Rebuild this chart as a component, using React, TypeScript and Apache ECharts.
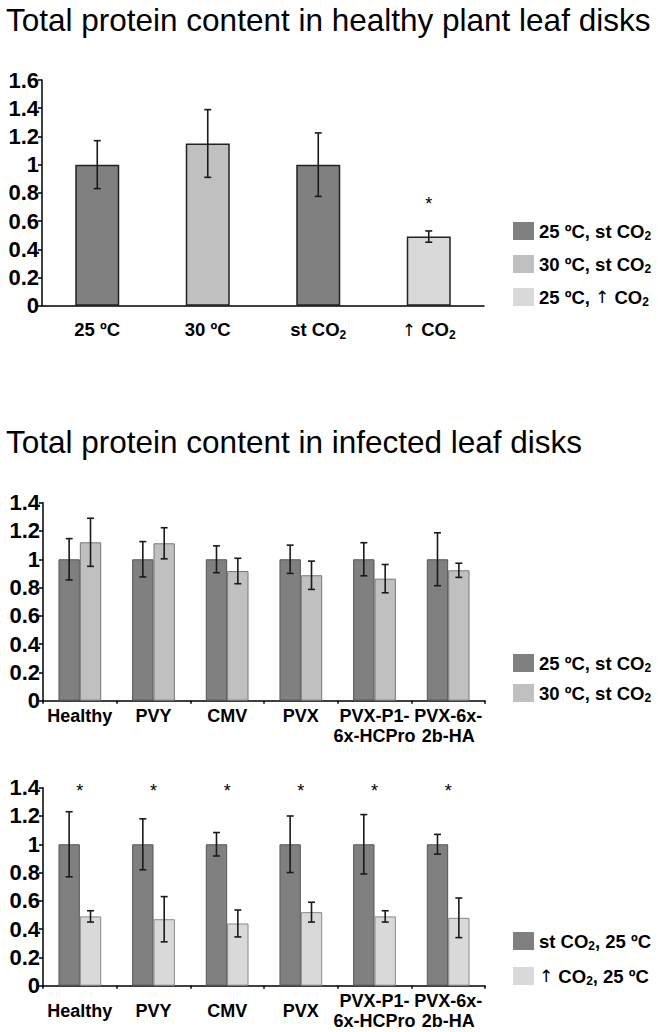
import React, { useEffect, useRef } from 'react';
import * as echarts from 'echarts';

// ---------- data ----------
const healthyCats = ['25 ºC', '30 ºC', 'st CO2', '↑ CO2'];
const healthyValues = [1.0, 1.15, 1.0, 0.49];
const healthyErrors = [0.17, 0.24, 0.225, 0.04];
const healthyStars = [null, null, null, 0.72];
const healthyLegend = ['25 ºC, st CO2', '30 ºC, st CO2', '25 ºC, ↑ CO2'];

const infectedCats = ['Healthy', 'PVY', 'CMV', 'PVX', 'PVX-P1-\n6x-HCPro', 'PVX-6x-\n2b-HA'];
const temp25Values = [1.0, 1.0, 1.0, 1.0, 1.0, 1.0];
const temp25Errors = [0.146, 0.125, 0.095, 0.1, 0.117, 0.187];
const temp30Values = [1.12, 1.113, 0.917, 0.887, 0.863, 0.922];
const temp30Errors = [0.17, 0.11, 0.09, 0.1, 0.1, 0.05];
const tempLegend = ['25 ºC, st CO2', '30 ºC, st CO2'];

const stCO2Values = [1.0, 1.0, 1.0, 1.0, 1.0, 1.0];
const stCO2Errors = [0.23, 0.18, 0.083, 0.2, 0.21, 0.07];
const highCO2Values = [0.49, 0.47, 0.44, 0.52, 0.49, 0.48];
const highCO2Errors = [0.04, 0.16, 0.095, 0.07, 0.04, 0.14];
const co2Stars = [1.38, 1.38, 1.38, 1.38, 1.38, 1.38];
const co2Legend = ['st CO2, 25 ºC', '↑ CO2, 25 ºC'];

const titles = ['Total protein content in healthy plant leaf disks', 'Total protein content in infected leaf disks'];

// ---------- style ----------
const DARK = '#808080';
const MID = '#c0c0c0';
const LIGHT = '#d9d9d9';
const FONT = '"Liberation Sans", "DejaVu Sans", Arial, sans-serif';
const ARROW_FONT = '"DejaVu Sans", sans-serif';
const healthyColors = [DARK, MID, DARK, LIGHT];
const legendColors1 = [DARK, MID, LIGHT];

const subStyle = { fontSize: 12, fontWeight: 'bold', fontFamily: FONT, color: '#000', verticalAlign: 'bottom', lineHeight: 8 };
const arrowStyle = { fontSize: 17, fontWeight: 'normal', fontFamily: ARROW_FONT, color: '#000', lineHeight: 22 };

function co2Rich(s: string) {
  return s.replace(/CO2/g, 'CO{sub|2}').replace(/↑/g, '{arr|↑}');
}

function errorSeries(xi: number, values: number[], errors: number[], offsetFrac: number) {
  return {
    type: 'custom',
    xAxisIndex: xi,
    yAxisIndex: xi,
    z: 10,
    silent: true,
    encode: { x: 0, y: 1 },
    data: values.map((v, i) => [i, v, errors[i]]),
    renderItem: (params: any, api: any) => {
      const i = api.value(0);
      const v = api.value(1);
      const e = api.value(2);
      const band = api.size([1, 0])[0];
      const top = api.coord([i, v + e]);
      const bot = api.coord([i, v - e]);
      const x = top[0] + band * offsetFrac;
      const cw = 3.5;
      const st = { stroke: '#1a1a1a', lineWidth: 1.6 };
      return {
        type: 'group',
        children: [
          { type: 'line', shape: { x1: x, y1: top[1], x2: x, y2: bot[1] }, style: st },
          { type: 'line', shape: { x1: x - cw, y1: top[1], x2: x + cw, y2: top[1] }, style: st },
          { type: 'line', shape: { x1: x - cw, y1: bot[1], x2: x + cw, y2: bot[1] }, style: st },
        ],
      };
    },
  };
}

function starSeries(xi: number, stars: (number | null)[]) {
  return {
    type: 'custom',
    xAxisIndex: xi,
    yAxisIndex: xi,
    z: 11,
    silent: true,
    encode: { x: 0, y: 1 },
    data: stars.map((v, i) => (v == null ? null : [i, v])).filter((d) => d != null),
    renderItem: (params: any, api: any) => {
      const p = api.coord([api.value(0), api.value(1)]);
      return {
        type: 'text',
        x: p[0],
        y: p[1],
        style: { text: '*', fontSize: 18, fontFamily: FONT, fill: '#000', align: 'center', verticalAlign: 'middle' },
      };
    },
  };
}

function legendGraphics(names: string[], colors: string[], tops: number[]) {
  const out: any[] = [];
  names.forEach((n, i) => {
    out.push({ type: 'rect', x: 513, y: tops[i], shape: { x: 0, y: 0, width: 21, height: 18 }, style: { fill: colors[i] } });
    out.push({
      type: 'text',
      x: 539,
      y: tops[i] + 9,
      style: {
        text: co2Rich(n),
        fontSize: 18.5,
        fontWeight: 'bold',
        fontFamily: FONT,
        fill: '#000',
        verticalAlign: 'middle',
        lineHeight: 22,
        rich: { sub: { ...subStyle, fill: '#000' }, arr: { ...arrowStyle, fill: '#000' } },
      },
    });
  });
  return out;
}

const yAxisBase = {
  type: 'value',
  min: 0,
  interval: 0.2,
  axisLine: { show: true, lineStyle: { color: '#000', width: 1.5 } },
  axisTick: { show: true, length: 4, lineStyle: { color: '#000', width: 1.5 } },
  splitLine: { show: false },
  axisLabel: { fontSize: 22, fontWeight: 'bold', fontFamily: FONT, color: '#000', margin: 3 },
};

export default function App() {
  const ref = useRef<HTMLDivElement>(null);
  useEffect(() => {
    if (!ref.current) return;
    const chart = echarts.init(ref.current, undefined, { renderer: 'svg' });
    const option: any = {
      animation: false,
      backgroundColor: '#fff',
      grid: [
        { left: 42, top: 80, width: 442, height: 225.7 },
        { left: 43, top: 502.7, width: 442, height: 198 },
        { left: 43, top: 787.7, width: 442, height: 198 },
      ],
      xAxis: [
        {
          type: 'category', gridIndex: 0, data: healthyCats,
          axisLine: { lineStyle: { color: '#000', width: 1.5 } },
          axisTick: { show: false },
          axisLabel: {
            fontSize: 18.5, fontWeight: 'bold', fontFamily: FONT, color: '#000', margin: 13, lineHeight: 22, interval: 0,
            formatter: (v: string) => co2Rich(v),
            rich: { sub: subStyle, arr: arrowStyle },
          },
        },
        {
          type: 'category', gridIndex: 1, data: infectedCats,
          axisLine: { lineStyle: { color: '#000', width: 1.5 } },
          axisTick: { show: true, length: 3, lineStyle: { color: '#000', width: 1.5 } },
          axisLabel: { fontSize: 18, fontWeight: 'bold', fontFamily: FONT, color: '#000', margin: 5, lineHeight: 20, interval: 0 },
        },
        {
          type: 'category', gridIndex: 2, data: infectedCats,
          axisLine: { lineStyle: { color: '#000', width: 1.5 } },
          axisTick: { show: true, length: 3, lineStyle: { color: '#000', width: 1.5 } },
          axisLabel: {
            fontSize: 18, fontWeight: 'bold', fontFamily: FONT, color: '#000', margin: 5, lineHeight: 20, interval: 0,
            formatter: (v: string) => (v.includes('\n') ? v : '{c|' + v + '}'),
            rich: { c: { fontSize: 18, fontWeight: 'bold', fontFamily: FONT, color: '#000', lineHeight: 40 } },
          },
        },
      ],
      yAxis: [
        { ...yAxisBase, gridIndex: 0, max: 1.6 },
        { ...yAxisBase, gridIndex: 1, max: 1.4 },
        { ...yAxisBase, gridIndex: 2, max: 1.4 },
      ],
      graphic: [
        { type: 'text', x: 6, y: 4, style: { text: titles[0], fontSize: 31.5, fontFamily: FONT, fill: '#000' } },
        { type: 'text', x: 6, y: 426, style: { text: titles[1], fontSize: 31.5, fontFamily: FONT, fill: '#000' } },
        ...legendGraphics(healthyLegend, legendColors1, [222, 255, 288]),
        ...legendGraphics(tempLegend, [DARK, MID], [654, 684]),
        ...legendGraphics(co2Legend, [DARK, LIGHT], [932, 967]),
      ],
      series: [
        {
          type: 'bar', xAxisIndex: 0, yAxisIndex: 0, barWidth: 44,
          data: healthyValues.map((v, i) => ({ value: v, itemStyle: { color: healthyColors[i] } })),
          itemStyle: { borderColor: '#222', borderWidth: 1.5 },
        },
        errorSeries(0, healthyValues, healthyErrors, 0),
        starSeries(0, healthyStars),
        {
          type: 'bar', name: tempLegend[0], xAxisIndex: 1, yAxisIndex: 1, data: temp25Values,
          barGap: '0%', barCategoryGap: '42%',
          itemStyle: { color: DARK, borderColor: '#555', borderWidth: 1 },
        },
        {
          type: 'bar', name: tempLegend[1], xAxisIndex: 1, yAxisIndex: 1, data: temp30Values,
          barGap: '0%', barCategoryGap: '42%',
          itemStyle: { color: MID, borderColor: '#777', borderWidth: 1 },
        },
        errorSeries(1, temp25Values, temp25Errors, -0.145),
        errorSeries(1, temp30Values, temp30Errors, 0.145),
        {
          type: 'bar', name: co2Legend[0], xAxisIndex: 2, yAxisIndex: 2, data: stCO2Values,
          barGap: '0%', barCategoryGap: '42%',
          itemStyle: { color: DARK, borderColor: '#555', borderWidth: 1 },
        },
        {
          type: 'bar', name: co2Legend[1], xAxisIndex: 2, yAxisIndex: 2, data: highCO2Values,
          barGap: '0%', barCategoryGap: '42%',
          itemStyle: { color: LIGHT, borderColor: '#888', borderWidth: 1 },
        },
        errorSeries(2, stCO2Values, stCO2Errors, -0.145),
        errorSeries(2, highCO2Values, highCO2Errors, 0.145),
        starSeries(2, co2Stars),
      ],
    };
    chart.setOption(option);
    return () => chart.dispose();
  }, []);
  return <div ref={ref} style={{ position: 'absolute', left: 0, top: 0, width: 660, height: 1032 }} />;
}
